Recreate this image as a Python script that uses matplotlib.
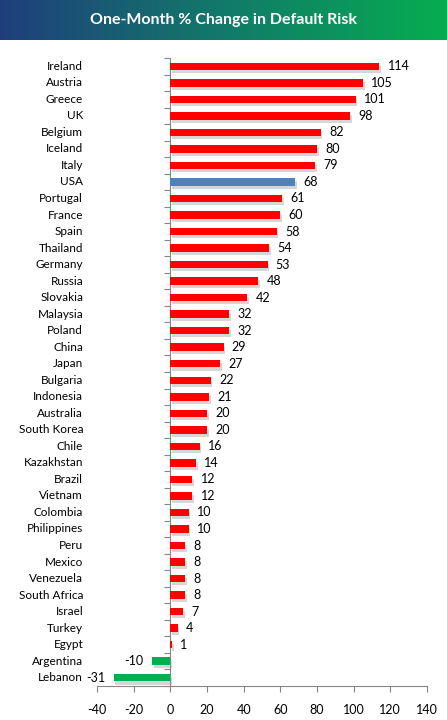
import matplotlib.pyplot as plt
import matplotlib.patheffects as pe
import numpy as np
from matplotlib.colors import LinearSegmentedColormap
from matplotlib.transforms import blended_transform_factory

countries = ["Ireland", "Austria", "Greece", "UK", "Belgium", "Iceland", "Italy", "USA",
             "Portugal", "France", "Spain", "Thailand", "Germany", "Russia", "Slovakia",
             "Malaysia", "Poland", "China", "Japan", "Bulgaria", "Indonesia", "Australia",
             "South Korea", "Chile", "Kazakhstan", "Brazil", "Vietnam", "Colombia",
             "Philippines", "Peru", "Mexico", "Venezuela", "South Africa", "Israel",
             "Turkey", "Egypt", "Argentina", "Lebanon"]
changes = [114, 105, 101, 98, 82, 80, 79, 68, 61, 60, 58, 54, 53, 48, 42, 32, 32, 29, 27,
           22, 21, 20, 20, 16, 14, 12, 12, 10, 10, 8, 8, 8, 8, 7, 4, 1, -10, -31]
x_ticks = [-40, -20, 0, 20, 40, 60, 80, 100, 120, 140]

plt.rcParams['font.family'] = ['Lato', 'DejaVu Sans']

fig = plt.figure(figsize=(4.47, 7.2), dpi=100)

# title banner, blue to green
banner = fig.add_axes([0, 1 - 40 / 720, 1, 40 / 720])
grad = np.linspace(0, 1, 256).reshape(1, -1)
cmap = LinearSegmentedColormap.from_list("bn", ["#1f3f7c", "#127a6a", "#06ad50"])
banner.imshow(grad, aspect="auto", cmap=cmap, extent=[0, 1, 0, 1])
banner.set_axis_off()
banner.text(0.5, 0.5, "One-Month % Change in Default Risk", color="white",
            fontsize=11.5, fontweight="bold", ha="center", va="center")

ax = fig.add_axes([97 / 447, 34 / 720, 330 / 447, 628 / 720])
y = np.arange(len(countries))
colors = []
for c, v in zip(countries, changes):
    if c == "USA":
        colors.append("#4f81bd")
    elif v < 0:
        colors.append("#00b050")
    else:
        colors.append("#ff0000")

bars = ax.barh(y, changes, height=0.45, color=colors, zorder=3)
for b in bars:
    b.set_path_effects([pe.SimplePatchShadow(offset=(1.2, -2.2), shadow_rgbFace="#9a9a9a", alpha=0.4),
                        pe.Normal()])

ax.set_ylim(len(countries) - 0.5, -0.5)
ax.set_xlim(-40, 140)
ax.set_xticks(x_ticks)
ax.set_xticklabels([str(t) for t in x_ticks], fontsize=9)

# value labels
for yi, v in zip(y, changes):
    if v >= 0:
        ax.text(v + 4.5, yi, str(v), va="center", ha="left", fontsize=9)
    else:
        ax.text(v - 4.5, yi, str(v), va="center", ha="right", fontsize=9)

# country names
trans = blended_transform_factory(ax.transAxes, ax.transData)
for yi, c in zip(y, countries):
    ax.text(-0.042, yi, c, transform=trans, va="center", ha="right", fontsize=8.5)

ax.spines['left'].set_position(('data', 0))
ax.set_yticks(np.arange(len(countries) + 1) - 0.5)
ax.set_yticklabels([])
ax.spines['top'].set_visible(False)
ax.spines['right'].set_visible(False)
for s in ['left', 'bottom']:
    ax.spines[s].set_color("#868686")
ax.tick_params(axis='both', colors="#868686", length=4, labelcolor="black")
ax.tick_params(axis='x', pad=9)

fig.savefig("out.png", dpi=100)
